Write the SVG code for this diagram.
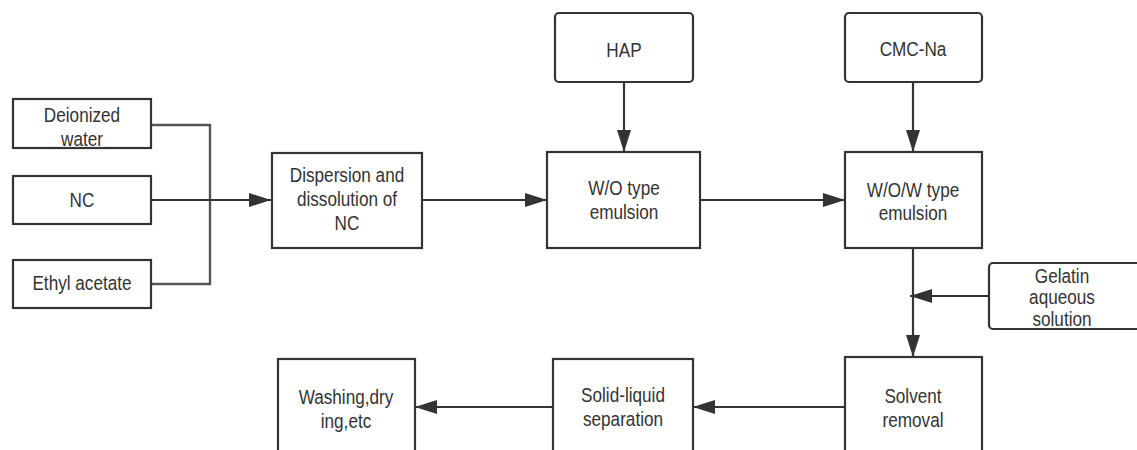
<svg xmlns="http://www.w3.org/2000/svg" width="1137" height="450" viewBox="0 0 1137 450">
<style>
.box{fill:#fff;stroke:#333;stroke-width:2.2}
.t{font-family:"Liberation Sans",Arial,sans-serif;font-size:19.5px;fill:#333;text-anchor:middle}
.c{fill:none;stroke:#333;stroke-width:2.2}
.g{fill:none;stroke:#555;stroke-width:2.4}
</style>
<defs>
<marker id="ah" markerUnits="userSpaceOnUse" markerWidth="22" markerHeight="14" refX="22" refY="7" orient="auto">
<path d="M0,0 L22,7 L0,14 z" fill="#333"/>
</marker>
</defs>
<rect width="1137" height="450" fill="#fff"/>
<g id="connectors">
<path class="g" d="M151,125 H210 V284 H151"/>
<path class="c" d="M151,200 H271" marker-end="url(#ah)"/>
<path class="c" d="M422,200 H547" marker-end="url(#ah)"/>
<path class="c" d="M624,82 V152" marker-end="url(#ah)"/>
<path class="c" d="M700,200 H845" marker-end="url(#ah)"/>
<path class="c" d="M913,82 V152" marker-end="url(#ah)"/>
<path class="c" d="M913,248 V357" marker-end="url(#ah)"/>
<path class="c" d="M989,296 H910" marker-end="url(#ah)"/>
<path class="c" d="M845,407 H693" marker-end="url(#ah)"/>
<path class="c" d="M553,407 H415" marker-end="url(#ah)"/>
</g>
<g id="deionized-water">
<rect class="box" x="13" y="99" width="138" height="49"/>
<text class="t" transform="translate(82,122) scale(0.88,1)">Deionized</text>
<text class="t" transform="translate(82,146) scale(0.88,1)">water</text>
</g>
<g id="nc">
<rect class="box" x="13" y="176" width="138" height="48"/>
<text class="t" transform="translate(82,207) scale(0.88,1)">NC</text>
</g>
<g id="ethyl-acetate">
<rect class="box" x="13" y="260" width="138" height="48"/>
<text class="t" transform="translate(82,290) scale(0.88,1)">Ethyl acetate</text>
</g>
<g id="dispersion">
<rect class="box" x="272" y="153" width="150" height="95"/>
<text class="t" transform="translate(347,182) scale(0.88,1)">Dispersion and</text>
<text class="t" transform="translate(347,206) scale(0.88,1)">dissolution of</text>
<text class="t" transform="translate(347,230) scale(0.88,1)">NC</text>
</g>
<g id="hap">
<rect class="box" x="555" y="13" width="138" height="69" rx="4"/>
<text class="t" transform="translate(624,57) scale(0.88,1)">HAP</text>
</g>
<g id="wo-emulsion">
<rect class="box" x="547" y="152" width="153" height="96"/>
<text class="t" transform="translate(624,195) scale(0.88,1)">W/O type</text>
<text class="t" transform="translate(624,219) scale(0.88,1)">emulsion</text>
</g>
<g id="cmc-na">
<rect class="box" x="845" y="13" width="137" height="69" rx="4"/>
<text class="t" transform="translate(913,56) scale(0.88,1)">CMC-Na</text>
</g>
<g id="wow-emulsion">
<rect class="box" x="845" y="152" width="137" height="96"/>
<text class="t" transform="translate(913,197) scale(0.88,1)">W/O/W type</text>
<text class="t" transform="translate(913,220) scale(0.88,1)">emulsion</text>
</g>
<g id="gelatin">
<rect class="box" x="989" y="263" width="170" height="66" rx="4"/>
<text class="t" transform="translate(1062,283) scale(0.88,1)">Gelatin</text>
<text class="t" transform="translate(1062,304) scale(0.88,1)">aqueous</text>
<text class="t" transform="translate(1062,326) scale(0.88,1)">solution</text>
</g>
<g id="solvent-removal">
<rect class="box" x="845" y="357" width="137" height="110"/>
<text class="t" transform="translate(913,403) scale(0.88,1)">Solvent</text>
<text class="t" transform="translate(913,427) scale(0.88,1)">removal</text>
</g>
<g id="solid-liquid">
<rect class="box" x="553" y="359" width="140" height="110"/>
<text class="t" transform="translate(623,402) scale(0.88,1)">Solid-liquid</text>
<text class="t" transform="translate(623,426) scale(0.88,1)">separation</text>
</g>
<g id="washing">
<rect class="box" x="278" y="359" width="137" height="110"/>
<text class="t" transform="translate(346,404) scale(0.88,1)">Washing,dry</text>
<text class="t" transform="translate(346,428) scale(0.88,1)">ing,etc</text>
</g>
</svg>
